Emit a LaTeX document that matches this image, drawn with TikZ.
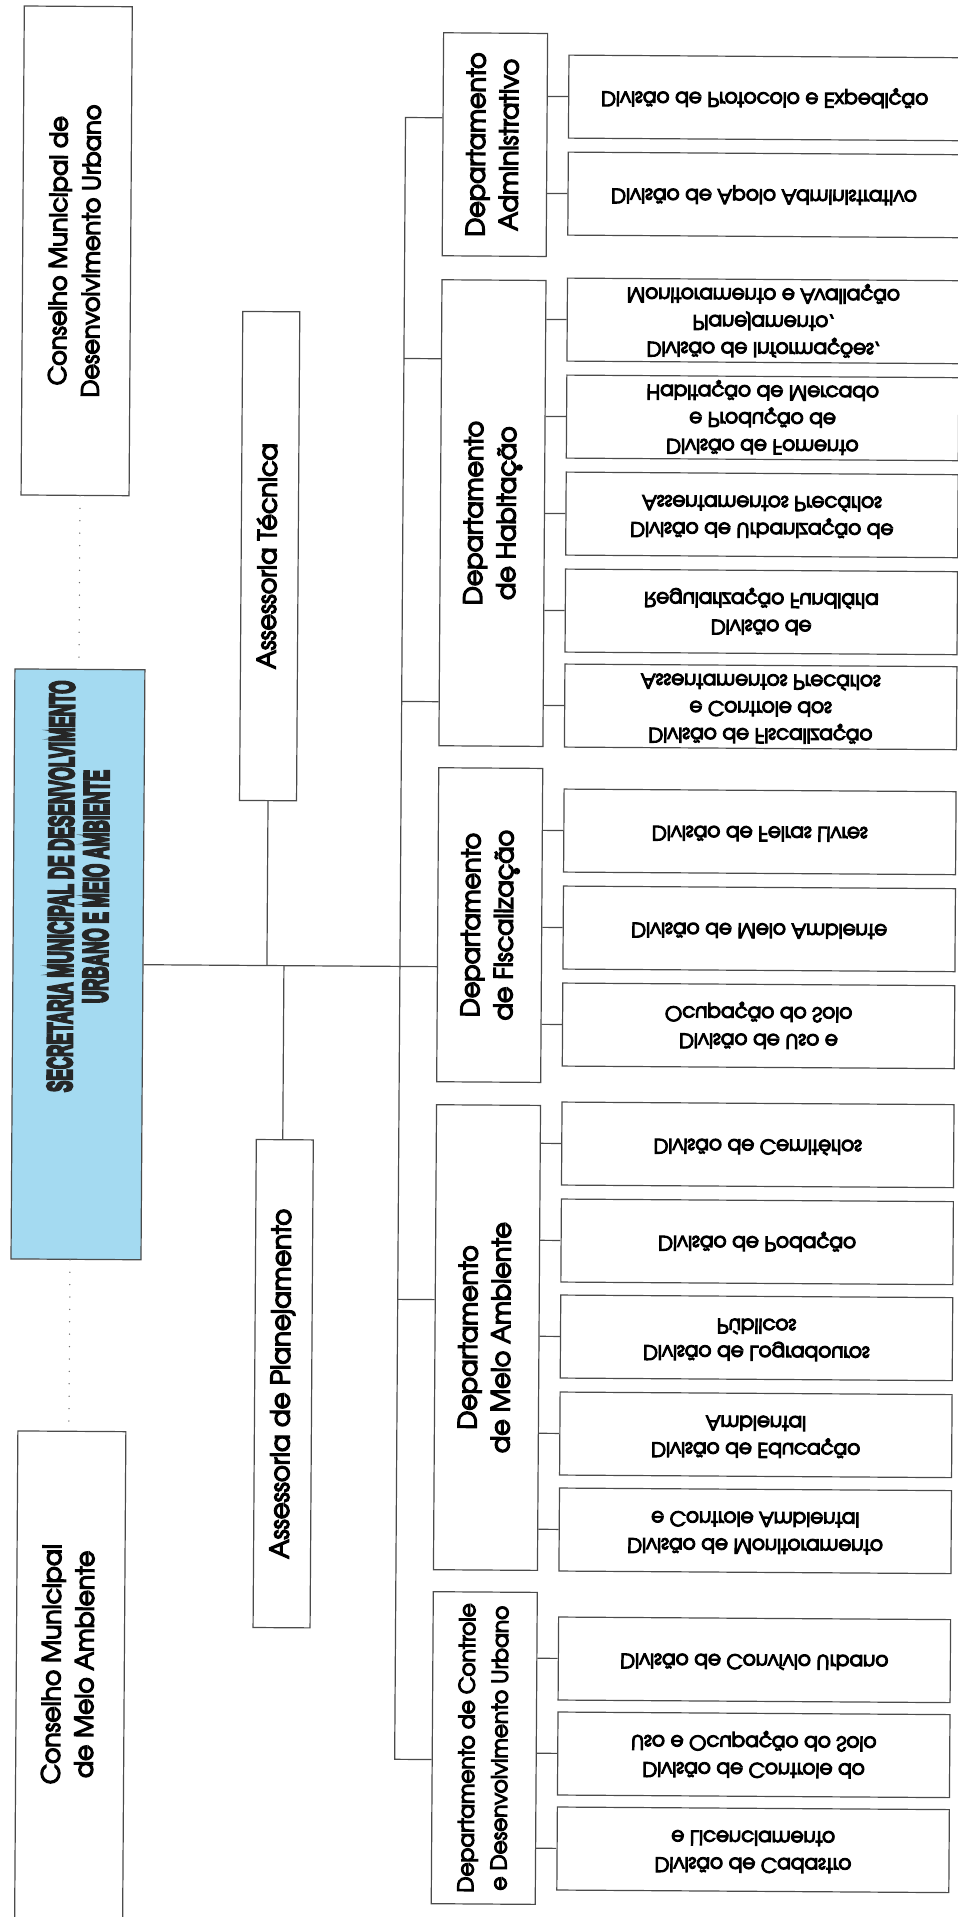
\documentclass[tikz,border=0pt]{standalone}
\usepackage{fontspec}
\setmainfont{texgyreadventor}[Extension=.otf,UprightFont=*-regular,BoldFont=*-bold,ItalicFont=*-italic,BoldItalicFont=*-bolditalic,UprightFeatures={FakeBold=5}]
\newfontfamily\titulofont{Liberation Sans}[BoldFeatures={FakeBold=8}]
\usetikzlibrary{positioning,calc}
\definecolor{azulsec}{RGB}{164,218,241}
\definecolor{linha}{RGB}{75,75,75}
\newcommand{\vtexto}[2][0pt]{\rotatebox{90}{\hspace*{#1}\begin{tabular}{@{}c@{}}#2\end{tabular}}}
\newcommand{\invtexto}[1]{\scalebox{1}[-1]{\begin{tabular}{@{}c@{}}#1\end{tabular}}}

\begin{document}
\begin{tikzpicture}[x=1pt,y=-1pt,
    caixa/.style={draw=linha,line width=1.2pt,inner sep=0pt,align=center},
    conselho/.style={caixa,minimum width=108,font=\fontsize{24}{33}\selectfont},
    assessoria/.style={caixa,minimum width=57,font=\fontsize{25.4}{33}\selectfont},
    depto/.style={caixa,minimum width=104,font=\fontsize{25.4}{33}\selectfont},
    divisao/.style={caixa,minimum width=392,minimum height=83,font=\fontsize{20}{27}\selectfont},
    liga/.style={draw=linha,line width=1.2pt},
    pontos/.style={draw=linha!80,line width=1.5pt,line cap=round,dash pattern=on 0pt off 12.4pt}]
    \useasboundingbox (0,0) rectangle (958,1917);
    \clip (0,0) rectangle (958,1917);
    \begin{scope}[rotate around={-0.38:(479,958)},transform shape]
    % conselhos e secretaria
    \node[conselho,minimum height=489] (cdu) at (72,253.5) {\vtexto{Conselho Municipal de\\Desenvolvimento Urbano}};
    \node[caixa,fill=azulsec,minimum width=130,minimum height=590] (sec) at (78,967) {};
    \node[text=black!85,font=\titulofont\bfseries\fontsize{35}{35}\selectfont] (sectit) at (83,889) {\rotatebox{90}{\scalebox{0.488}[1]{\begin{tabular}{@{}c@{}}SECRETARIA MUNICIPAL DE DESENVOLVIMENTO\\URBANO E MEIO AMBIENTE\end{tabular}}}};
    \node[conselho,minimum height=500,font=\fontsize{25}{33}\selectfont] (cma) at (75,1684) {\vtexto[34pt]{Conselho Municipal\\de Meio Ambiente}};
    % assessorias
    \node[assessoria,minimum height=489] (at) at (267,557.5) {\vtexto{Assessoria Técnica}};
    \node[assessoria,minimum height=488,font=\fontsize{26}{33}\selectfont] (ap) at (286,1385) {\vtexto{Assessoria de Planejamento}};
    % departamentos
    \node[depto,minimum height=223] (adm) at (489.5,144.5) {\vtexto{Departamento\\Administrativo}};
    \node[depto,minimum height=466] (hab) at (489.5,513) {\vtexto{Departamento\\de Habitação}};
    \node[depto,minimum height=314] (fis) at (489.5,925) {\vtexto{Departamento\\de Fiscalização}};
    \node[depto,minimum height=465] (mam) at (489.5,1337.5) {\vtexto{Departamento\\de Meio Ambiente}};
    \node[depto,minimum height=312,font=\fontsize{21.7}{33}\selectfont] (ctl) at (489.5,1748) {\vtexto{Departamento de Controle\\e Desenvolvimento Urbano}};
    % divisoes
    \node[divisao] (dProt) at (759,96) {\invtexto{Divisão de Protocolo e Expedição}};
    \node[divisao] (dApoio) at (759,193) {\invtexto{Divisão de Apoio Administrativo}};
    \node[divisao] (dInfo) at (759,319) {\invtexto{Divisão de Informações,\\Planejamento,\\Monitoramento e Avaliação}};
    \node[divisao] (dFom) at (759,416) {\invtexto{Divisão de Fomento\\e Produção de\\Habitação de Mercado}};
    \node[divisao] (dUrb) at (759,513) {\invtexto{Divisão de Urbanização de\\Assentamentos Precários}};
    \node[divisao] (dReg) at (759,610) {\invtexto{Divisão de\\Regularização Fundiária}};
    \node[divisao] (dFAP) at (759,705) {\invtexto{Divisão de Fiscalização\\e Controle dos\\Assentamentos Precários}};
    \node[divisao] (dFeiras) at (759,830) {\invtexto{Divisão de Feiras Livres}};
    \node[divisao] (dMA) at (759,927) {\invtexto{Divisão de Meio Ambiente}};
    \node[divisao] (dUso) at (759,1024) {\invtexto{Divisão de Uso e\\Ocupação do Solo}};
    \node[divisao] (dCem) at (759,1143) {\invtexto{Divisão de Cemitérios}};
    \node[divisao] (dPod) at (759,1240) {\invtexto{Divisão de Podação}};
    \node[divisao] (dLog) at (759,1336) {\invtexto{Divisão de Logradouros\\Públicos}};
    \node[divisao] (dEdu) at (759,1433) {\invtexto{Divisão de Educação\\Ambiental}};
    \node[divisao] (dMon) at (759,1529) {\invtexto{Divisão de Monitoramento\\e Controle Ambiental}};
    \node[divisao] (dConv) at (759,1658) {\invtexto{Divisão de Convívio Urbano}};
    \node[divisao] (dCUso) at (759,1753) {\invtexto{Divisão de Controle do\\Uso e Ocupação do Solo}};
    \node[divisao] (dCad) at (759,1848) {\invtexto{Divisão de Cadastro\\e Licenciamento}};
    % ligacoes
    \draw[pontos] ([xshift=5]cdu.south) -- ([xshift=5]cdu.south |- sec.north);
    \draw[pontos] ([xshift=-3]cma.north |- sec.south) -- ([xshift=-3]cma.north);
    \draw[liga] (sec.east) -- (sec.east -| fis.west);
    \draw[liga] (at.south) -- (at.south |- sec.east);
    \draw[liga] ([xshift=-2]ap.north |- sec.east) -- ([xshift=-2]ap.north);
    \coordinate (b1) at (400,118);
    \coordinate (b2) at (400,1760);
    \coordinate (bh1) at (400,359);
    \coordinate (bh2) at (400,702);
    \coordinate (bm) at (400,1300);
    \draw[liga] (b1 -| adm.west) -- (b1) -- (b2) -- (b2 -| ctl.west);
    \draw[liga] (bh1) -- (bh1 -| hab.west);
    \draw[liga] (bh2) -- (bh2 -| hab.west);
    \draw[liga] (bm) -- (bm -| mam.west);
    \foreach \d/\p in {dProt/adm,dApoio/adm,dInfo/hab,dFom/hab,dUrb/hab,dReg/hab,dFAP/hab,
        dFeiras/fis,dMA/fis,dUso/fis,dCem/mam,dPod/mam,dLog/mam,dEdu/mam,dMon/mam,
        dConv/ctl,dCUso/ctl,dCad/ctl}
        \draw[liga] (\d.west -| \p.east) -- (\d.west);
    \end{scope}
\end{tikzpicture}
\end{document}
